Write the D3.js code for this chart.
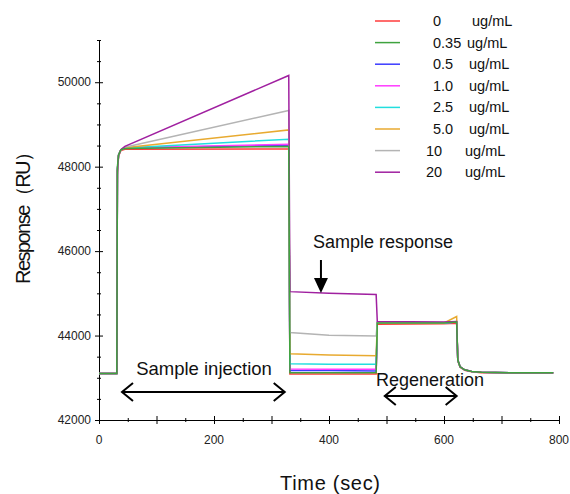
<!DOCTYPE html>
<html>
<head>
<meta charset="utf-8">
<script src="https://cdn.jsdelivr.net/npm/d3@7"></script>
<style>
  body { margin: 0; background: #fff; }
  svg { display: block; font-family: "Liberation Sans", Arial, sans-serif; }
</style>
</head>
<body>
<svg id="chart" width="570" height="494"></svg>
<script>
// sample times (sec) shared by every curve
const times = [0, 31, 32, 34, 38, 45, 330, 332, 400, 482, 484, 600, 622, 624, 628, 636, 648, 665, 720, 790];

// concentrations for the legend
const concLabels = ["0", "0.35", "0.5", "1.0", "2.5", "5.0", "10", "20"];
const concColors = ["#ff3b3b", "#3fa33f", "#3b3bff", "#ff3bff", "#22dede", "#e8aa30", "#b4b4b4", "#a020a0"];

// response (RU) per concentration, one value per time above
const resp0   = [43100, 43100, 47800, 48250, 48380, 48410, 48420, 43090, 43090, 43090, 44270, 44280, 44290, 43400, 43250, 43180, 43140, 43120, 43110, 43110];
const resp035 = [43100, 43100, 48000, 48280, 48400, 48430, 48480, 43120, 43120, 43120, 44300, 44300, 44320, 43420, 43260, 43190, 43150, 43130, 43120, 43120];
const resp05  = [43100, 43100, 47900, 48270, 48400, 48440, 48510, 43170, 43170, 43160, 44310, 44300, 44320, 43420, 43260, 43190, 43150, 43130, 43120, 43120];
const resp1   = [43100, 43100, 47900, 48270, 48400, 48450, 48530, 43210, 43200, 43200, 44310, 44300, 44320, 43420, 43260, 43190, 43150, 43130, 43120, 43120];
const resp25  = [43100, 43100, 47900, 48270, 48400, 48440, 48650, 43330, 43320, 43320, 44300, 44300, 44320, 43420, 43260, 43190, 43150, 43130, 43120, 43120];
const resp5   = [43100, 43100, 47900, 48270, 48400, 48450, 48870, 43570, 43540, 43520, 44300, 44300, 44450, 43420, 43260, 43190, 43150, 43130, 43120, 43120];
const resp10  = [43100, 43100, 47900, 48270, 48400, 48460, 49330, 44070, 44010, 43990, 44310, 44310, 44330, 43420, 43260, 43190, 43150, 43130, 43120, 43120];
const resp20  = [43100, 43100, 47900, 48270, 48400, 48480, 50160, 45040, 45000, 44970, 44330, 44320, 44330, 43420, 43260, 43190, 43150, 43130, 43120, 43120];
const responses = [resp0, resp035, resp05, resp1, resp25, resp5, resp10, resp20];

const xTicks = [0, 200, 400, 600, 800];
const yTicks = [42000, 44000, 46000, 48000, 50000];

const svg = d3.select("#chart");
const x = d3.scaleLinear([0, 800], [99, 559]);
const y = d3.scaleLinear([42000, 51000], [420, 40]);

// axes
const xAxis = g => g
  .attr("transform", `translate(0,${y(42000)})`)
  .call(d3.axisBottom(x).tickValues(d3.range(0, 801, 50)).tickSize(0).tickFormat(""))
  .call(g => g.selectAll(".tick line").attr("y1", d => d % 100 ? -2 : -4).attr("y2", d => d % 100 ? 2 : 4))
  .call(g => g.select(".domain").attr("stroke", "#000"));

const yAxis = g => g
  .attr("transform", `translate(${x(0)},0)`)
  .call(d3.axisLeft(y).tickValues(d3.range(42000, 51001, 500)).tickSize(0).tickFormat(""))
  .call(g => g.selectAll(".tick line").attr("x1", d => d % 2000 ? -2 : -4).attr("x2", d => d % 2000 ? 2 : 4))
  .call(g => g.select(".domain").attr("stroke", "#000"));

svg.append("g").call(xAxis);
svg.append("g").call(yAxis);

svg.append("g").selectAll("text").data(xTicks).join("text")
  .attr("x", d => x(d)).attr("y", 444)
  .attr("text-anchor", "middle").attr("font-size", 12).attr("fill", "#222")
  .text(d => d);

svg.append("g").selectAll("text").data(yTicks).join("text")
  .attr("x", 91).attr("y", d => y(d) + 4)
  .attr("text-anchor", "end").attr("font-size", 12).attr("fill", "#222")
  .text(d => d);

svg.append("text").attr("x", 330).attr("y", 490).attr("text-anchor", "middle")
  .attr("font-size", 20).attr("fill", "#111")
  .attr("textLength", 100).attr("lengthAdjust", "spacing").text("Time (sec)");

svg.append("text").attr("transform", "translate(30,213) rotate(-90)").attr("text-anchor", "middle")
  .attr("font-size", 20).attr("fill", "#111")
  .attr("textLength", 142).attr("lengthAdjust", "spacing").text("Response（RU）");

// sensorgram curves, 0.35 drawn last like the original
const line = d3.line().x(d => x(d[0])).y(d => y(d[1]));
const order = [0, 2, 3, 4, 5, 6, 7, 1];
svg.append("g").selectAll("path").data(order).join("path")
  .attr("d", i => line(times.map((t, k) => [t, responses[i][k]])))
  .attr("fill", "none").attr("stroke", i => concColors[i]).attr("stroke-width", 1.5);

// legend
const legend = svg.append("g").selectAll("g").data(concLabels).join("g")
  .attr("transform", (d, i) => `translate(0,${21 + i * 21.6})`);
legend.append("line").attr("x1", 375).attr("x2", 400)
  .attr("stroke", (d, i) => concColors[i]).attr("stroke-width", 1.5);
legend.append("text").attr("x", d => d.length === 2 ? 426 : 433).attr("y", 5)
  .attr("font-size", 14.5).attr("fill", "#111").text(d => d);
legend.append("text").attr("x", d => d === "0" ? 472 : d === "0.35" ? 467 : d.length === 2 ? 465 : 469).attr("y", 5)
  .attr("font-size", 14.5).attr("fill", "#111").text("ug/mL");

// annotations
const arrowG = svg.append("g").attr("stroke", "#000").attr("stroke-width", 2).attr("fill", "none");
function doubleArrow(t0, t1, yy) {
  const a = x(t0), b = x(t1);
  arrowG.append("line").attr("x1", a).attr("x2", b).attr("y1", yy).attr("y2", yy);
  arrowG.append("path").attr("d", `M${a + 11},${yy - 9}L${a},${yy}L${a + 11},${yy + 9}`);
  arrowG.append("path").attr("d", `M${b - 11},${yy - 9}L${b},${yy}L${b - 11},${yy + 9}`);
}
doubleArrow(40, 323, 392);
doubleArrow(497, 622, 396);

svg.append("text").attr("x", 204).attr("y", 375).attr("text-anchor", "middle")
  .attr("font-size", 18.5).attr("fill", "#111").text("Sample injection");
svg.append("text").attr("x", 430).attr("y", 386).attr("text-anchor", "middle")
  .attr("font-size", 18).attr("fill", "#111").text("Regeneration");
svg.append("text").attr("x", 383).attr("y", 248).attr("text-anchor", "middle")
  .attr("font-size", 18).attr("fill", "#111").text("Sample response");

const ax = x(386);
svg.append("line").attr("x1", ax).attr("x2", ax).attr("y1", 260).attr("y2", 280)
  .attr("stroke", "#000").attr("stroke-width", 2);
svg.append("path").attr("d", `M${ax - 7},${278}L${ax + 7},${278}L${ax},${293}Z`).attr("fill", "#000");
</script>
</body>
</html>
